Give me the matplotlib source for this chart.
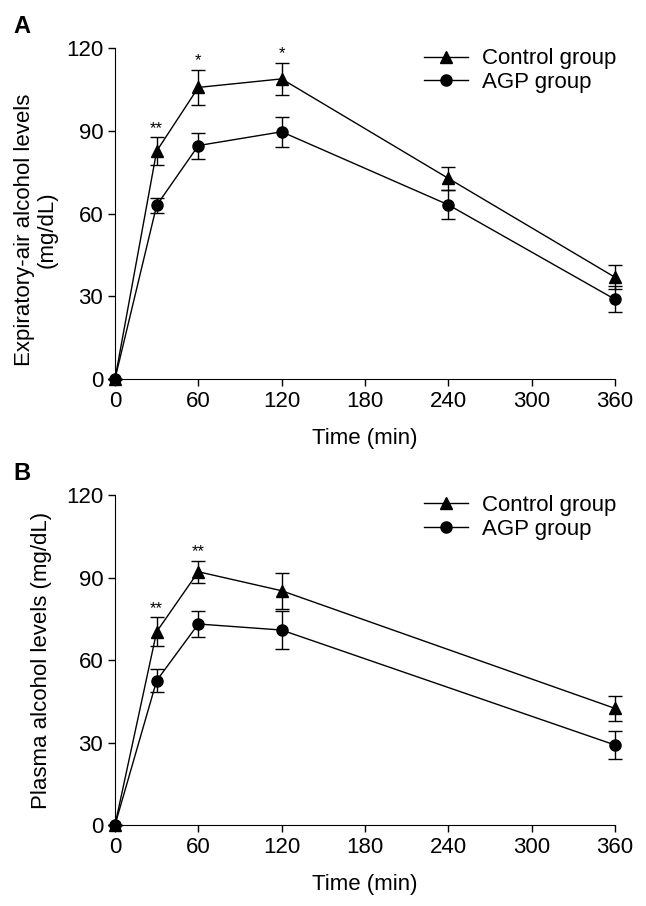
import numpy as np
import matplotlib.pyplot as plt

plt.rcParams['font.family'] = ['Liberation Sans', 'DejaVu Sans']

# panel A: expiratory-air alcohol
time_a = [0, 30, 60, 120, 240, 360]
ctrl_a = [0, 82.7, 105.8, 108.9, 72.8, 36.9]
ctrl_a_err = [0, 5.0, 6.4, 5.8, 4.2, 4.3]
agp_a = [0, 63.0, 84.7, 89.7, 63.2, 28.9]
agp_a_err = [0, 2.7, 4.7, 5.5, 5.3, 4.7]
star_a = ['', '**', '*', '*', '', '']

# panel B: plasma alcohol
time_b = [0, 30, 60, 120, 360]
ctrl_b = [0, 70.3, 92.1, 85.2, 42.4]
ctrl_b_err = [0, 5.2, 4.0, 6.6, 4.4]
agp_b = [0, 52.5, 73.1, 70.9, 29.1]
agp_b_err = [0, 4.1, 4.8, 7.0, 5.0]
star_b = ['', '**', '**', '', '']

xticks = [0, 60, 120, 180, 240, 300, 360]
yticks = [0, 30, 60, 90, 120]

fig = plt.figure(figsize=(6.46, 9.06), dpi=100)
ax1 = fig.add_axes([0.178, 0.5817, 0.774, 0.365])
ax2 = fig.add_axes([0.178, 0.0894, 0.774, 0.3642])


def draw(ax, t, c, ce, a, ae, stars, ylabel, letter, ylab_xy):
    # error bars first, then lines+markers for legend handles
    ax.errorbar(t, c, yerr=ce, fmt='none', ecolor='black', capsize=5,
                elinewidth=1, capthick=1, clip_on=False, zorder=2)
    ax.errorbar(t, a, yerr=ae, fmt='none', ecolor='black', capsize=5,
                elinewidth=1, capthick=1, clip_on=False, zorder=2)
    ax.plot(t, c, color='black', marker='^', ms=8, lw=1,
            label='Control group', clip_on=False, zorder=3)
    ax.plot(t, a, color='black', marker='o', ms=8, lw=1,
            label='AGP group', clip_on=False, zorder=3)
    for x, y, e, s in zip(t, c, ce, stars):
        if s:
            ax.text(x, y + e + 0.5, s, ha='center', va='bottom', fontsize=12)
    ax.set_xlim(0, 360)
    ax.set_ylim(0, 120)
    ax.set_xticks(xticks)
    ax.set_yticks(yticks)
    ax.spines['top'].set_visible(False)
    ax.spines['right'].set_visible(False)
    ax.tick_params(labelsize=16, length=5, width=1)
    ax.set_xlabel('Time (min)', fontsize=16, labelpad=12)
    ax.set_ylabel(ylabel, fontsize=16, linespacing=1.15)
    ax.yaxis.set_label_coords(*ylab_xy)
    ax.legend(loc='upper right', frameon=False, fontsize=16,
              handlelength=2.0, handletextpad=0.6, labelspacing=0.12,
              bbox_to_anchor=(1.042, 1.06))
    ax.text(-0.204, 1.10, letter, transform=ax.transAxes, fontsize=17,
            fontweight='bold', ha='left', va='top')


draw(ax1, time_a, ctrl_a, ctrl_a_err, agp_a, agp_a_err, star_a,
     'Expiratory-air alcohol levels\n(mg/dL)', 'A', (-0.114, 0.45))
draw(ax2, time_b, ctrl_b, ctrl_b_err, agp_b, agp_b_err, star_b,
     'Plasma alcohol levels (mg/dL)', 'B', (-0.126, 0.5))

fig.savefig('out.png', dpi=100)
